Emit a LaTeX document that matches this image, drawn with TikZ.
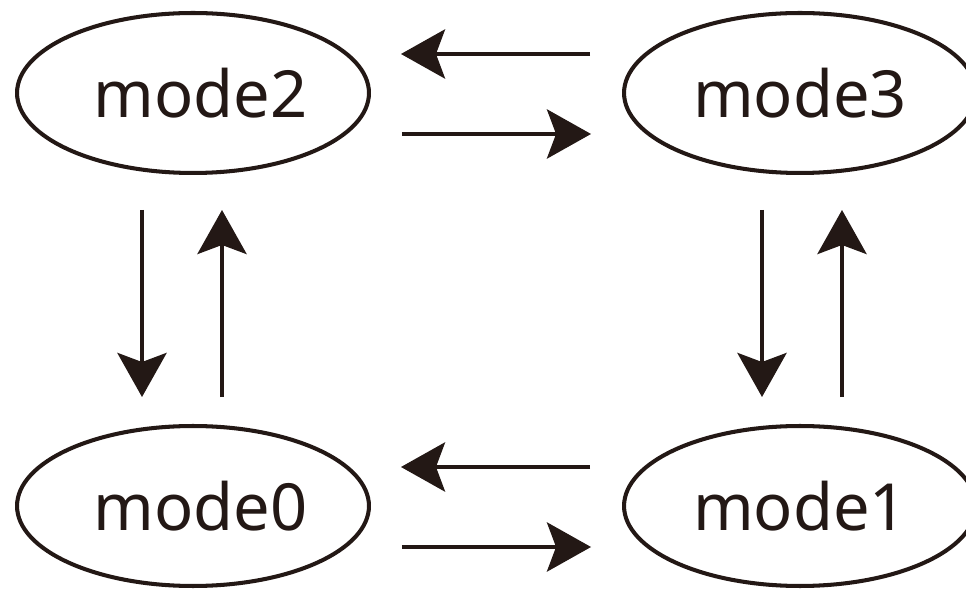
\documentclass[tikz,border=0pt]{standalone}
\usepackage{fontspec}
\setmainfont{Noto Sans}
\usepackage{tikz}
\usetikzlibrary{arrows.meta}
\usetikzlibrary{shapes.geometric}
\usetikzlibrary{positioning}

\definecolor{ink}{HTML}{231815}

\begin{document}
\begin{tikzpicture}[
x=0.02cm, y=-0.02cm,
mode/.style ={ellipse, draw=ink, text=ink, line width=2.3pt,
  minimum width=7.04cm, minimum height=3.2cm,
  inner sep=0pt, outer sep=0pt,
  font=\fontsize{37}{40}\selectfont
},
line/.style ={color=ink, line width=2.8pt,
  -{Stealth[length=0.88cm, width=0.98cm, inset=0.18cm]}}
]
\useasboundingbox (0,0) rectangle (966,590);

\node[mode] (m2) at (193,93) {\hspace*{0.3cm}mode2};
\node[mode] (m3) at (800,93) {mode3};
\node[mode] (m0) at (193,506) {\hspace*{0.3cm}mode0};
\node[mode] (m1) at (800,506) {mode1};

% horizontal pairs
\path[line]
([shift={(-34,-39)}]m3.west) edge ([shift={(32,-39)}]m2.east)
([shift={(33,41)}]m2.east) edge ([shift={(-33,41)}]m3.west)
([shift={(-34,-39)}]m1.west) edge ([shift={(32,-39)}]m0.east)
([shift={(33,41)}]m0.east) edge ([shift={(-33,41)}]m1.west)
;

% vertical pairs
\path[line]
([shift={(-51,37)}]m2.south) edge ([shift={(-51,-29)}]m0.north)
([shift={(29,-29)}]m0.north) edge ([shift={(29,37)}]m2.south)
([shift={(-38,37)}]m3.south) edge ([shift={(-38,-29)}]m1.north)
([shift={(42,-29)}]m1.north) edge ([shift={(42,37)}]m3.south)
;
\end{tikzpicture}
\end{document}
